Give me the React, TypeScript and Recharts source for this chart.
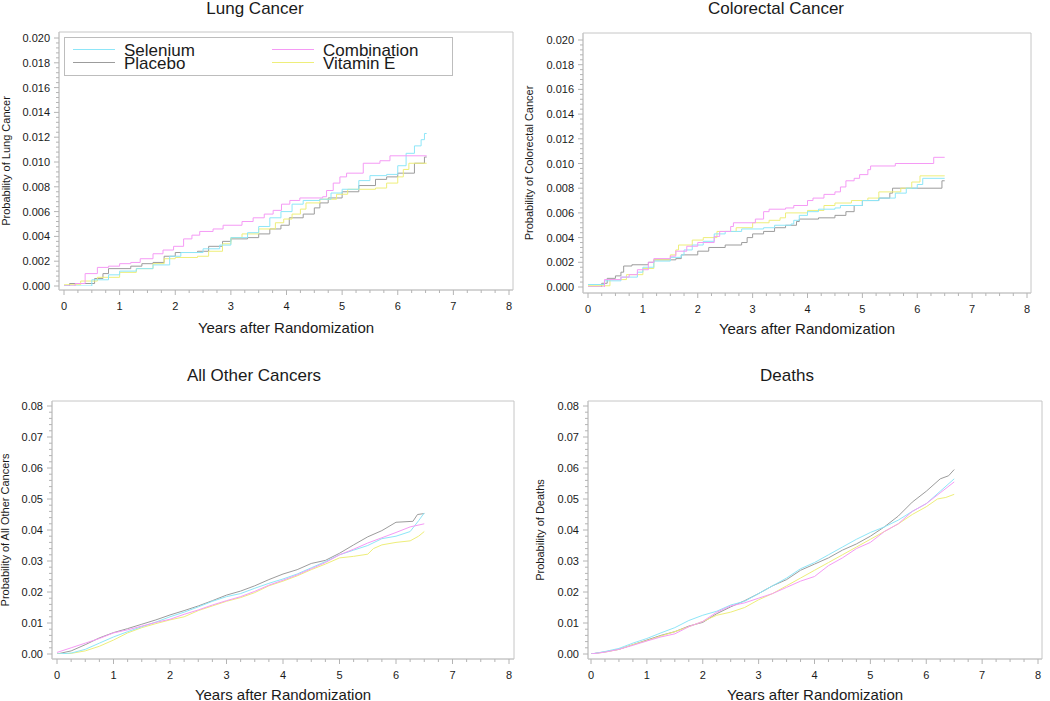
import { LineChart, Line, XAxis, YAxis, CartesianGrid, Legend } from 'recharts';

type Pt = [number, number];

const SERIES_NAMES = ['Selenium', 'Combination', 'Placebo', 'Vitamin E'];
const SERIES_COLORS = ['#8ee6f8', '#f59af5', '#9c9c9c', '#eeee7a'];
const X_LABEL = 'Years after Randomization';

// Lung cancer (cumulative probability, step curves)
const LUNG_SELENIUM: Pt[] = [[0, 0], [0.5, 0.0005], [0.8, 0.0009], [1.0, 0.0012], [1.3, 0.0014], [1.6, 0.0017], [1.9, 0.0024], [2.1, 0.0027], [2.5, 0.003], [2.8, 0.0033], [3.0, 0.0039], [3.3, 0.0043], [3.5, 0.0048], [3.7, 0.0055], [3.9, 0.006], [4.1, 0.0066], [4.3, 0.0069], [4.6, 0.007], [4.8, 0.0075], [5.0, 0.0078], [5.3, 0.0085], [5.5, 0.0089], [5.8, 0.009], [6.0, 0.0097], [6.15, 0.0107], [6.3, 0.0113], [6.42, 0.0118], [6.48, 0.0123], [6.52, 0.0123]];
const LUNG_COMBINATION: Pt[] = [[0, 0], [0.2, 0.0002], [0.38, 0.001], [0.6, 0.0015], [0.8, 0.0016], [1.0, 0.0018], [1.2, 0.0019], [1.37, 0.0022], [1.6, 0.0026], [1.78, 0.0029], [1.97, 0.0032], [2.15, 0.0038], [2.3, 0.0041], [2.44, 0.0044], [2.68, 0.0046], [2.86, 0.0049], [3.2, 0.0052], [3.4, 0.0055], [3.6, 0.0058], [3.76, 0.0061], [3.91, 0.0066], [4.06, 0.0069], [4.24, 0.0071], [4.65, 0.0072], [4.72, 0.0077], [4.84, 0.0083], [4.96, 0.0088], [5.08, 0.0091], [5.38, 0.0099], [5.68, 0.0101], [5.86, 0.0105], [6.52, 0.0105]];
const LUNG_PLACEBO: Pt[] = [[0, 0], [0.1, 0.0002], [0.55, 0.0006], [0.7, 0.001], [0.8, 0.0014], [1.2, 0.0016], [1.4, 0.0018], [1.6, 0.0019], [1.8, 0.0024], [2.0, 0.0027], [2.4, 0.0028], [2.6, 0.0032], [2.85, 0.0036], [3.0, 0.0038], [3.3, 0.0039], [3.5, 0.0042], [3.7, 0.0046], [3.9, 0.0049], [4.05, 0.0055], [4.3, 0.0058], [4.5, 0.0063], [4.6, 0.0067], [4.75, 0.0071], [5.0, 0.0076], [5.3, 0.0081], [5.6, 0.0086], [5.8, 0.0088], [6.0, 0.0091], [6.3, 0.0099], [6.48, 0.0104], [6.52, 0.0104]];
const LUNG_VITAMIN_E: Pt[] = [[0, 0.0001], [0.3, 0.0004], [0.6, 0.0007], [1.0, 0.0011], [1.3, 0.0014], [1.6, 0.0018], [1.8, 0.0022], [2.0, 0.0023], [2.4, 0.0024], [2.6, 0.0028], [2.85, 0.0034], [3.0, 0.0039], [3.2, 0.0042], [3.5, 0.0046], [3.8, 0.0051], [3.95, 0.0054], [4.1, 0.0058], [4.25, 0.0062], [4.35, 0.0067], [4.6, 0.007], [4.9, 0.0074], [5.1, 0.0078], [5.6, 0.0079], [5.8, 0.0083], [6.0, 0.0088], [6.1, 0.0094], [6.2, 0.0099], [6.52, 0.0099]];

// Colorectal cancer
const CRC_SELENIUM: Pt[] = [[0, 0.0002], [0.3, 0.0005], [0.6, 0.0008], [0.9, 0.0012], [1.0, 0.0016], [1.2, 0.0021], [1.5, 0.0024], [1.7, 0.0026], [1.75, 0.003], [1.9, 0.0034], [2.1, 0.0037], [2.3, 0.0043], [2.5, 0.0045], [2.8, 0.0047], [3.2, 0.0048], [3.4, 0.005], [3.7, 0.0051], [3.75, 0.0054], [3.85, 0.0058], [4.0, 0.0061], [4.2, 0.0063], [4.5, 0.0064], [4.6, 0.0066], [5.0, 0.007], [5.3, 0.0072], [5.6, 0.0076], [5.8, 0.008], [6.0, 0.0083], [6.1, 0.0088], [6.5, 0.0088]];
const CRC_COMBINATION: Pt[] = [[0, 0], [0.3, 0.0006], [0.6, 0.0008], [0.75, 0.001], [0.9, 0.0014], [1.1, 0.002], [1.2, 0.0023], [1.5, 0.0025], [1.6, 0.0029], [1.8, 0.0033], [2.0, 0.0036], [2.3, 0.0041], [2.4, 0.0045], [2.6, 0.0049], [2.65, 0.0052], [3.05, 0.0055], [3.2, 0.0061], [3.3, 0.0063], [3.6, 0.0064], [3.75, 0.0066], [4.0, 0.007], [4.1, 0.0072], [4.3, 0.0075], [4.5, 0.0077], [4.6, 0.0081], [4.7, 0.0086], [4.85, 0.0088], [4.95, 0.0091], [5.1, 0.0095], [5.15, 0.0098], [5.6, 0.01], [6.3, 0.0105], [6.5, 0.0105]];
const CRC_PLACEBO: Pt[] = [[0, 0], [0.25, 0.0003], [0.35, 0.0007], [0.5, 0.0009], [0.6, 0.0012], [0.65, 0.0017], [0.8, 0.0018], [1.1, 0.002], [1.2, 0.0022], [1.6, 0.0023], [1.7, 0.0026], [2.0, 0.0029], [2.2, 0.0032], [2.5, 0.0034], [2.8, 0.0036], [2.9, 0.004], [3.0, 0.0043], [3.2, 0.0045], [3.4, 0.0048], [3.6, 0.005], [3.8, 0.0053], [3.85, 0.0055], [4.2, 0.0056], [4.5, 0.0058], [4.7, 0.0061], [4.85, 0.0066], [5.0, 0.007], [5.3, 0.0072], [5.5, 0.0076], [5.55, 0.008], [6.45, 0.0086], [6.5, 0.0086]];
const CRC_VITAMIN_E: Pt[] = [[0, 0.0001], [0.4, 0.0006], [0.7, 0.001], [1.0, 0.0015], [1.2, 0.0022], [1.5, 0.0026], [1.6, 0.003], [1.65, 0.0034], [1.9, 0.0038], [2.1, 0.004], [2.35, 0.0045], [2.7, 0.0048], [3.0, 0.0052], [3.3, 0.0054], [3.5, 0.0056], [3.6, 0.006], [4.0, 0.0062], [4.3, 0.0066], [4.5, 0.0068], [4.8, 0.007], [5.1, 0.0072], [5.3, 0.0077], [5.7, 0.008], [5.9, 0.0085], [6.05, 0.009], [6.5, 0.009]];

// All other cancers
const OTHER_SELENIUM: Pt[] = [[0, 0], [0.25, 0.0003], [0.5, 0.0015], [0.75, 0.0035], [1, 0.0055], [1.25, 0.0072], [1.5, 0.0088], [1.75, 0.0103], [2, 0.012], [2.25, 0.0135], [2.5, 0.0152], [2.75, 0.017], [3, 0.0185], [3.25, 0.0195], [3.5, 0.0212], [3.75, 0.0228], [4, 0.0242], [4.25, 0.0258], [4.5, 0.0278], [4.75, 0.0298], [5, 0.032], [5.25, 0.0335], [5.5, 0.035], [5.75, 0.0372], [6, 0.038], [6.25, 0.0395], [6.4, 0.043], [6.5, 0.0455]];
const OTHER_COMBINATION: Pt[] = [[0, 0.0005], [0.25, 0.002], [0.5, 0.0035], [0.75, 0.005], [1, 0.0068], [1.25, 0.0078], [1.5, 0.009], [1.75, 0.0102], [2, 0.0112], [2.25, 0.0128], [2.5, 0.0142], [2.75, 0.0158], [3, 0.0172], [3.25, 0.0185], [3.5, 0.0202], [3.75, 0.0222], [4, 0.0238], [4.25, 0.0255], [4.5, 0.0275], [4.75, 0.0295], [5, 0.032], [5.25, 0.0338], [5.5, 0.0358], [5.75, 0.0375], [6, 0.0392], [6.25, 0.041], [6.5, 0.042]];
const OTHER_PLACEBO: Pt[] = [[0, 0], [0.25, 0.001], [0.5, 0.003], [0.75, 0.0052], [1, 0.0069], [1.25, 0.0082], [1.5, 0.0096], [1.75, 0.011], [2, 0.0126], [2.25, 0.014], [2.5, 0.0155], [2.75, 0.0172], [3, 0.019], [3.25, 0.0203], [3.5, 0.022], [3.75, 0.024], [4, 0.0258], [4.25, 0.0272], [4.5, 0.0292], [4.75, 0.0302], [5, 0.0325], [5.25, 0.0352], [5.5, 0.0378], [5.75, 0.0398], [6, 0.0425], [6.3, 0.0428], [6.38, 0.045], [6.5, 0.0453]];
const OTHER_VITAMIN_E: Pt[] = [[0, 0], [0.25, 0.0002], [0.5, 0.001], [0.75, 0.0025], [1, 0.0045], [1.25, 0.0068], [1.5, 0.0085], [1.75, 0.0098], [2, 0.011], [2.25, 0.012], [2.5, 0.014], [2.75, 0.0155], [3, 0.017], [3.25, 0.0182], [3.5, 0.0198], [3.75, 0.022], [4, 0.0235], [4.25, 0.0252], [4.5, 0.0272], [4.75, 0.029], [5, 0.031], [5.25, 0.0315], [5.5, 0.0322], [5.6, 0.034], [5.75, 0.0352], [6, 0.036], [6.25, 0.0365], [6.4, 0.038], [6.5, 0.0395]];

// Deaths
const DEATH_SELENIUM: Pt[] = [[0, 0], [0.25, 0.0008], [0.5, 0.0018], [0.75, 0.0035], [1, 0.005], [1.25, 0.0068], [1.5, 0.0085], [1.75, 0.0108], [2, 0.0125], [2.25, 0.0138], [2.5, 0.0158], [2.75, 0.017], [3, 0.0195], [3.25, 0.022], [3.5, 0.0245], [3.75, 0.0275], [4, 0.0295], [4.25, 0.032], [4.5, 0.0345], [4.75, 0.037], [5, 0.0392], [5.25, 0.041], [5.5, 0.0432], [5.75, 0.046], [6, 0.0485], [6.25, 0.0525], [6.5, 0.0565]];
const DEATH_COMBINATION: Pt[] = [[0, 0], [0.25, 0.0006], [0.5, 0.0015], [0.75, 0.0028], [1, 0.0042], [1.25, 0.0055], [1.5, 0.0065], [1.75, 0.0088], [2, 0.0105], [2.25, 0.0135], [2.5, 0.0155], [2.75, 0.0165], [3, 0.018], [3.25, 0.0195], [3.5, 0.0215], [3.75, 0.0235], [4, 0.025], [4.25, 0.0285], [4.5, 0.031], [4.75, 0.034], [5, 0.036], [5.25, 0.0395], [5.5, 0.042], [5.75, 0.046], [6, 0.0485], [6.25, 0.052], [6.5, 0.0555]];
const DEATH_PLACEBO: Pt[] = [[0, 0], [0.25, 0.0007], [0.5, 0.0015], [0.75, 0.003], [1, 0.0045], [1.25, 0.006], [1.5, 0.0072], [1.75, 0.009], [2, 0.0102], [2.25, 0.013], [2.5, 0.0152], [2.75, 0.0172], [3, 0.0195], [3.25, 0.022], [3.5, 0.024], [3.75, 0.027], [4, 0.029], [4.25, 0.031], [4.5, 0.0335], [4.75, 0.0355], [5, 0.038], [5.25, 0.041], [5.5, 0.0445], [5.75, 0.049], [6, 0.0525], [6.25, 0.0565], [6.4, 0.0575], [6.5, 0.0595]];
const DEATH_VITAMIN_E: Pt[] = [[0, 0], [0.25, 0.0006], [0.5, 0.0015], [0.75, 0.003], [1, 0.0043], [1.25, 0.0058], [1.5, 0.0072], [1.75, 0.0088], [2, 0.0105], [2.25, 0.0125], [2.5, 0.0135], [2.75, 0.015], [3, 0.0175], [3.25, 0.0195], [3.5, 0.022], [3.75, 0.0245], [4, 0.027], [4.25, 0.0295], [4.5, 0.032], [4.75, 0.0345], [5, 0.037], [5.25, 0.0395], [5.5, 0.042], [5.75, 0.045], [6, 0.0475], [6.2, 0.05], [6.35, 0.0505], [6.5, 0.0515]];

const FRAME = '#c6c6c6';
const TICK = '#b4b4b4';
const INK = '#1a1a1a';
const FONT = '"Liberation Sans", Arial, Helvetica, sans-serif';

const makeTicks = (max: number, step: number) => {
  const out: number[] = [];
  const n = Math.round(max / step);
  for (let i = 0; i <= n; i++) out.push(+(i * step).toFixed(6));
  return out;
};
const X_TICKS = makeTicks(8, 0.25);

const isMajor = (v: number, step: number) => Math.abs(v / step - Math.round(v / step)) < 1e-6;

const XTick = (props: any) => {
  const { x, y, payload } = props;
  const major = isMajor(payload.value, 1);
  return (
    <g>
      <line x1={x} x2={x} y1={y} y2={y + (major ? 5 : 3)} stroke={TICK} />
      {major && (
        <text x={x} y={y + 20} textAnchor="middle" fontSize={11} fill={INK}>
          {payload.value}
        </text>
      )}
    </g>
  );
};

const makeYTick = (step: number, decimals: number) => (props: any) => {
  const { x, y, payload } = props;
  const major = isMajor(payload.value, step);
  return (
    <g>
      <line x1={x - (major ? 5 : 3)} x2={x} y1={y} y2={y} stroke={TICK} />
      {major && (
        <text x={x - 9} y={y + 4} textAnchor="end" fontSize={11} fill={INK}>
          {payload.value.toFixed(decimals)}
        </text>
      )}
    </g>
  );
};

const LegendBox = () => (
  <svg width={389} height={39} style={{ display: 'block' }}>
    <rect x={0.5} y={0.5} width={388} height={38} fill="#fff" stroke="#bdbdbd" />
    {SERIES_NAMES.map((name, i) => {
      const col = i % 2;
      const row = Math.floor(i / 2);
      const lx = col === 0 ? 9 : 208;
      const ly = row === 0 ? 12.5 : 25.5;
      return (
        <g key={name}>
          <line x1={lx} x2={lx + 42} y1={ly} y2={ly} stroke={SERIES_COLORS[i]} />
          <text x={lx + 51} y={row === 0 ? 19 : 32} fontSize={17} fill={INK} fontFamily={FONT}>
            {name}
          </text>
        </g>
      );
    })}
  </svg>
);

interface PanelProps {
  title: string;
  yLabel: string;
  series: Pt[][];
  curve: 'stepAfter' | 'linear';
  yMax: number;
  yStep: number;
  yMinor: number;
  decimals: number;
  left: number;
  top: number;
  width: number;
  height: number;
  margin: { top: number; right: number };
  yAxisWidth: number;
  xAxisHeight: number;
  padX: [number, number];
  padY: [number, number];
  titleX: number;
  titleTop: number;
  yLabelOffset: number;
  xLabelOffset: number;
  legend?: boolean;
}

function Panel(p: PanelProps) {
  const yTicks = makeTicks(p.yMax, p.yMinor);
  const YTick = makeYTick(p.yStep, p.decimals);
  // draw gray first, then the rest
  const order = [2, 3, 0, 1];
  return (
    <div style={{ position: 'absolute', left: p.left, top: p.top, width: p.width, height: p.height }}>
      <div
        style={{
          position: 'absolute',
          left: p.titleX - 150,
          width: 300,
          top: p.titleTop,
          textAlign: 'center',
          fontSize: 17,
          lineHeight: '17px',
          color: INK,
        }}
      >
        {p.title}
      </div>
      <LineChart width={p.width} height={p.height} margin={{ top: p.margin.top, right: p.margin.right, bottom: 0, left: 0 }}>
        <CartesianGrid
          stroke={FRAME}
          horizontalCoordinatesGenerator={({ offset }: any) => [offset.top, offset.top + offset.height]}
          verticalCoordinatesGenerator={({ offset }: any) => [offset.left, offset.left + offset.width]}
        />
        <XAxis
          dataKey="t"
          type="number"
          domain={[0, 8]}
          ticks={X_TICKS}
          interval={0}
          height={p.xAxisHeight}
          padding={{ left: p.padX[0], right: p.padX[1] }}
          axisLine={{ stroke: FRAME }}
          tickLine={false}
          tickSize={0}
          tickMargin={0}
          tick={<XTick />}
          allowDataOverflow
          label={{ value: X_LABEL, position: 'insideBottom', offset: p.xLabelOffset, style: { fontSize: 15, fill: INK } }}
        />
        <YAxis
          type="number"
          domain={[0, p.yMax]}
          ticks={yTicks}
          interval={0}
          width={p.yAxisWidth}
          padding={{ top: p.padY[0], bottom: p.padY[1] }}
          axisLine={{ stroke: FRAME }}
          tickLine={false}
          tickSize={0}
          tickMargin={0}
          tick={<YTick />}
          allowDataOverflow
          label={{
            value: p.yLabel,
            angle: -90,
            position: 'insideLeft',
            offset: p.yLabelOffset,
            style: { textAnchor: 'middle', fontSize: 11, fill: INK },
          }}
        />
        {order.map((i) => (
          <Line
            key={SERIES_NAMES[i]}
            name={SERIES_NAMES[i]}
            data={p.series[i].map(([t, v]) => ({ t, p: v }))}
            dataKey="p"
            type={p.curve}
            stroke={SERIES_COLORS[i]}
            strokeWidth={1}
            dot={false}
            activeDot={false}
            isAnimationActive={false}
          />
        ))}
        {p.legend && (
          <Legend
            layout="horizontal"
            verticalAlign="middle"
            align="center"
            wrapperStyle={{ left: 64, top: 37, width: 389, height: 39 }}
            content={() => <LegendBox />}
          />
        )}
      </LineChart>
    </div>
  );
}

export default function App() {
  return (
    <div
      style={{
        position: 'absolute',
        left: 0,
        top: 0,
        width: 1050,
        height: 701,
        overflow: 'hidden',
        background: '#fff',
        fontFamily: FONT,
      }}
    >
      <Panel
        title="Lung Cancer"
        yLabel="Probability of Lung Cancer"
        series={[LUNG_SELENIUM, LUNG_COMBINATION, LUNG_PLACEBO, LUNG_VITAMIN_E]}
        curve="stepAfter"
        yMax={0.02}
        yStep={0.002}
        yMinor={0.0004}
        decimals={3}
        left={0}
        top={0}
        width={520}
        height={340}
        margin={{ top: 32, right: 7 }}
        yAxisWidth={59}
        xAxisHeight={50}
        padX={[5, 4]}
        padY={[6, 4]}
        titleX={255}
        titleTop={0}
        yLabelOffset={6}
        xLabelOffset={7}
        legend
      />
      <Panel
        title="Colorectal Cancer"
        yLabel="Probability of Colorectal Cancer"
        series={[CRC_SELENIUM, CRC_COMBINATION, CRC_PLACEBO, CRC_VITAMIN_E]}
        curve="stepAfter"
        yMax={0.02}
        yStep={0.002}
        yMinor={0.0004}
        decimals={3}
        left={520}
        top={0}
        width={530}
        height={340}
        margin={{ top: 33, right: 19 }}
        yAxisWidth={63}
        xAxisHeight={47}
        padX={[5, 4]}
        padY={[7, 6]}
        titleX={256}
        titleTop={0}
        yLabelOffset={9}
        xLabelOffset={6}
      />
      <Panel
        title="All Other Cancers"
        yLabel="Probability of All Other Cancers"
        series={[OTHER_SELENIUM, OTHER_COMBINATION, OTHER_PLACEBO, OTHER_VITAMIN_E]}
        curve="linear"
        yMax={0.08}
        yStep={0.01}
        yMinor={0.002}
        decimals={2}
        left={0}
        top={340}
        width={520}
        height={361}
        margin={{ top: 61, right: 6 }}
        yAxisWidth={52}
        xAxisHeight={42}
        padX={[5, 5]}
        padY={[5, 5]}
        titleX={254}
        titleTop={27}
        yLabelOffset={5}
        xLabelOffset={1}
      />
      <Panel
        title="Deaths"
        yLabel="Probability of Deaths"
        series={[DEATH_SELENIUM, DEATH_COMBINATION, DEATH_PLACEBO, DEATH_VITAMIN_E]}
        curve="linear"
        yMax={0.08}
        yStep={0.01}
        yMinor={0.002}
        decimals={2}
        left={520}
        top={340}
        width={530}
        height={361}
        margin={{ top: 61, right: 8 }}
        yAxisWidth={68}
        xAxisHeight={42}
        padX={[3, 4]}
        padY={[5, 5]}
        titleX={267}
        titleTop={27}
        yLabelOffset={20}
        xLabelOffset={1}
      />
    </div>
  );
}
